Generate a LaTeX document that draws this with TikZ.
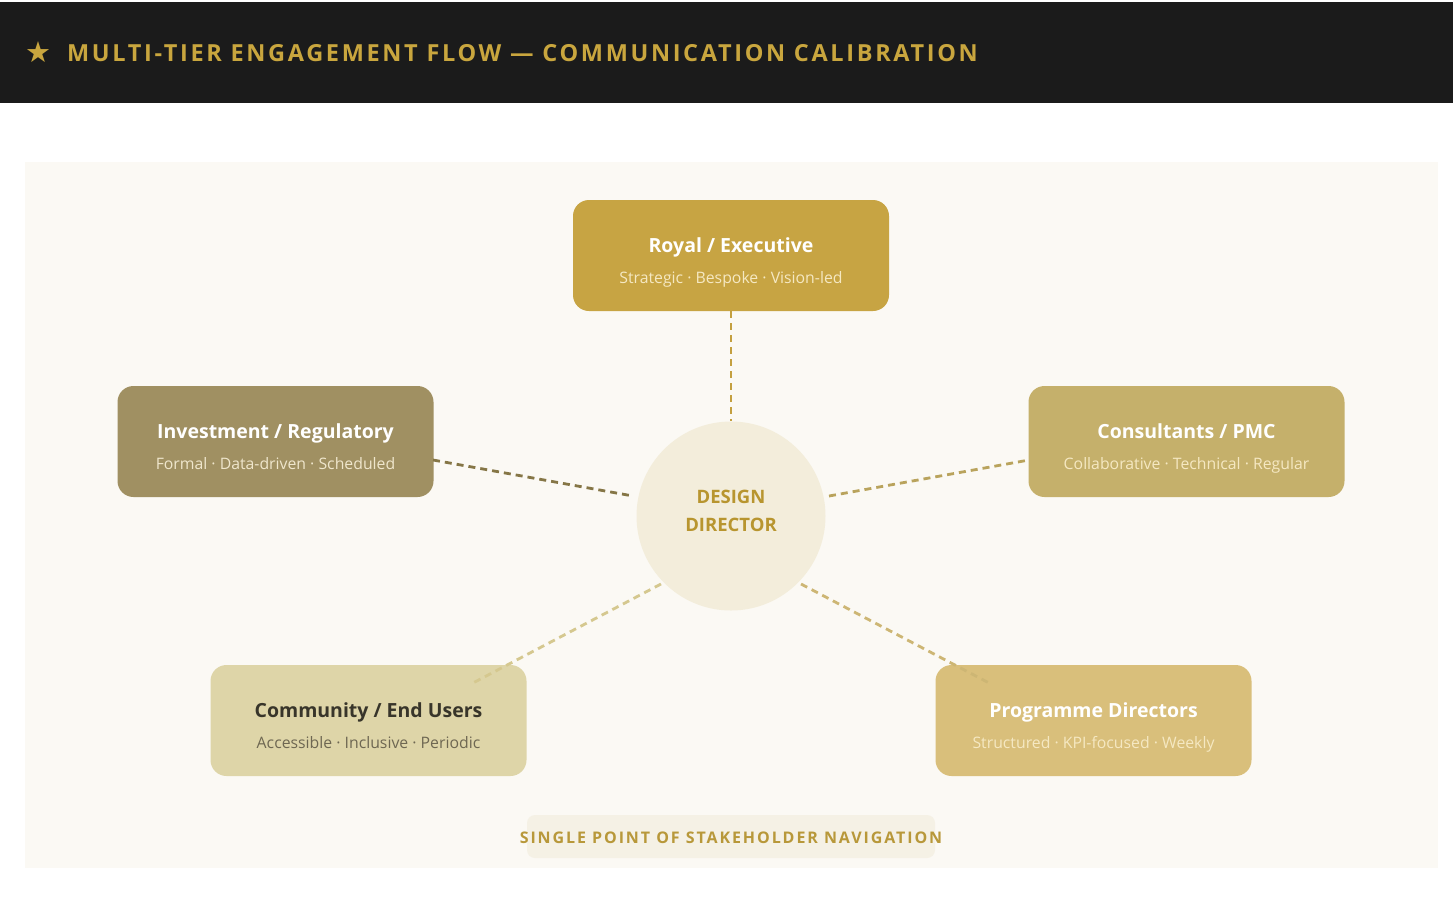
\documentclass[tikz,border=0pt]{standalone}
\usepackage{fontspec}
\setmainfont{Open Sans}
\newfontfamily\titlefont[LetterSpace=11.3]{Open Sans}
\newfontfamily\navfont[LetterSpace=12]{Open Sans}
\newfontfamily\symfont{DejaVu Sans}
\usetikzlibrary{calc}
\definecolor{hdr}{HTML}{1B1B1B}
\definecolor{goldtxt}{HTML}{C9A63E}
\definecolor{panel}{HTML}{FBF9F4}
\definecolor{royalc}{HTML}{C7A443}
\definecolor{investc}{HTML}{A09062}
\definecolor{consultc}{HTML}{C5B06B}
\definecolor{commc}{HTML}{DED5A8}
\definecolor{progc}{HTML}{D9BF7B}
\definecolor{circc}{HTML}{F3EDDB}
\definecolor{circtxt}{HTML}{B8952F}
\definecolor{sublight}{HTML}{F5E8C2}
\definecolor{subinv}{HTML}{EFE6CC}
\definecolor{commtitle}{HTML}{38352A}
\definecolor{commsub}{HTML}{6E6752}
\definecolor{ltop}{HTML}{C4A040}
\definecolor{lleft}{HTML}{857646}
\definecolor{lright}{HTML}{B9A35C}
\definecolor{lbl}{HTML}{D5C88F}
\definecolor{lbr}{HTML}{CDB674}
\definecolor{navbg}{HTML}{F5F1E5}
\definecolor{navtxt}{HTML}{B8983A}
\tikzset{
  tierbox/.style={rounded corners=16pt, minimum width=316pt, minimum height=111pt, inner sep=0pt},
  tiertitle/.style={font=\fontsize{19.5}{22}\selectfont\bfseries, inner sep=0pt, anchor=base},
  tiersub/.style={font=\fontsize{15.8}{20}\selectfont, inner sep=0pt, anchor=base},
  conn/.style={line width=2.8pt, dash pattern=on 7pt off 5pt},
}
\begin{document}
\begin{tikzpicture}[x=1pt,y=-1pt]
\useasboundingbox (0,0) rectangle (1453,922);
\fill[white] (0,0) rectangle (1453,922);
% header
\fill[hdr] (0,1.5) rectangle (1453,102.5);
\node[anchor=west, text=goldtxt, inner sep=0pt, font=\symfont\fontsize{29}{30}\selectfont] (star) at (25,52) {★};
\node[anchor=west, text=goldtxt, inner sep=0pt, font=\titlefont\fontsize{23.5}{26}\selectfont\bfseries] (title) at (67,53.5) {MULTI-TIER ENGAGEMENT FLOW — COMMUNICATION CALIBRATION};
% panel
\fill[panel] (25,162) rectangle (1438,868);
% boxes
\node[tierbox, fill=royalc] (royal) at (731,255.5) {};
\node[tierbox, fill=investc] (inv) at (275.5,441.5) {};
\node[tierbox, fill=consultc] (cons) at (1186.5,441.5) {};
\node[tierbox, fill=commc] (comm) at (368.5,720.5) {};
\node[tierbox, fill=progc] (prog) at (1093.5,720.5) {};
% circle
\node[circle, fill=circc, minimum size=189pt, inner sep=0pt] (dd) at (731,516) {};
% connectors
\coordinate (invEnd) at (433,460);
\coordinate (ddL) at (633,496);
\coordinate (consEnd) at (1029,460);
\coordinate (ddR) at (829,496);
\coordinate (commEnd) at (471,684);
\coordinate (ddBL) at (661,584);
\coordinate (progEnd) at (991,684);
\coordinate (ddBR) at (801,584);
\draw[conn, ltop] (royal.south) -- (dd.north);
\draw[conn, lleft] (invEnd) -- (ddL);
\draw[conn, lright] (ddR) -- (consEnd);
\draw[conn, lbl] (ddBL) -- (commEnd);
\draw[conn, lbr] (ddBR) -- (progEnd);
% texts
\node[tiertitle, text=white] (royalT) at ($(royal.center)+(0,-3.5)$) {Royal / Executive};
\node[tiersub, text=sublight] (royalS) at ($(royal.center)+(0,28)$) {Strategic · Bespoke · Vision-led};
\node[tiertitle, text=white] (invT) at ($(inv.center)+(0,-3.5)$) {Investment / Regulatory};
\node[tiersub, text=subinv] (invS) at ($(inv.center)+(0,28)$) {Formal · Data-driven · Scheduled};
\node[tiertitle, text=white] (consT) at ($(cons.center)+(0,-3.5)$) {Consultants / PMC};
\node[tiersub, text=sublight] (consS) at ($(cons.center)+(0,28)$) {Collaborative · Technical · Regular};
\node[tiertitle, text=commtitle] (commT) at ($(comm.center)+(0,-3.5)$) {Community / End Users};
\node[tiersub, text=commsub] (commS) at ($(comm.center)+(0,28)$) {Accessible · Inclusive · Periodic};
\node[tiertitle, text=white] (progT) at ($(prog.center)+(0,-3.5)$) {Programme Directors};
\node[tiersub, text=sublight] (progS) at ($(prog.center)+(0,28)$) {Structured · KPI-focused · Weekly};
\node[text=circtxt, align=center, font=\fontsize{18.5}{28}\selectfont\bfseries, inner sep=0pt] (ddT) at ($(dd.center)+(0,-5)$) {DESIGN\\DIRECTOR};
% bottom label
\node[fill=navbg, rounded corners=8pt, minimum width=408pt, minimum height=43pt, inner sep=0pt] (navbox) at (731,836.5) {};
\node[text=navtxt, inner sep=0pt, font=\navfont\fontsize{16}{18}\selectfont\bfseries] (navT) at (731,838) {SINGLE POINT OF STAKEHOLDER NAVIGATION};
\end{tikzpicture}
\end{document}
